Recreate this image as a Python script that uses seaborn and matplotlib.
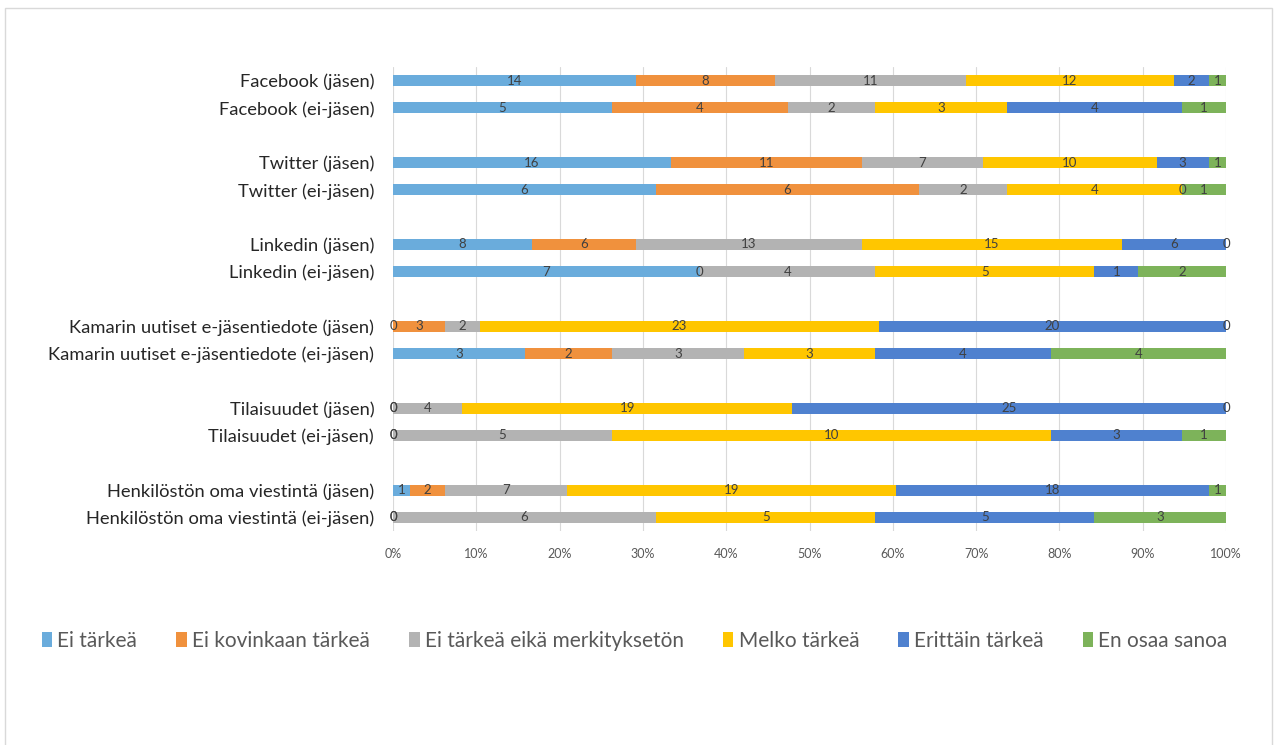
import matplotlib
matplotlib.use("Agg")
import matplotlib.pyplot as plt
from matplotlib.patches import Patch, Rectangle
import seaborn as sns
import pandas as pd
import numpy as np

categories = [
    "Facebook (jäsen)", "Facebook (ei-jäsen)",
    "Twitter (jäsen)", "Twitter (ei-jäsen)",
    "Linkedin (jäsen)", "Linkedin (ei-jäsen)",
    "Kamarin uutiset e-jäsentiedote (jäsen)", "Kamarin uutiset e-jäsentiedote (ei-jäsen)",
    "Tilaisuudet (jäsen)", "Tilaisuudet (ei-jäsen)",
    "Henkilöstön oma viestintä (jäsen)", "Henkilöstön oma viestintä (ei-jäsen)",
]
series_names = ["Ei tärkeä", "Ei kovinkaan tärkeä", "Ei tärkeä eikä merkityksetön",
                "Melko tärkeä", "Erittäin tärkeä", "En osaa sanoa"]
ei_tarkea         = [14, 5, 16, 6, 8, 7, 0, 3, 0, 0, 1, 0]
ei_kovinkaan      = [8, 4, 11, 6, 6, 0, 3, 2, 0, 0, 2, 0]
ei_tarkea_eika    = [11, 2, 7, 2, 13, 4, 2, 3, 4, 5, 7, 6]
melko_tarkea      = [12, 3, 10, 4, 15, 5, 23, 3, 19, 10, 19, 5]
erittain_tarkea   = [2, 4, 3, 0, 6, 1, 20, 4, 25, 3, 18, 5]
en_osaa_sanoa     = [1, 1, 1, 1, 0, 2, 0, 4, 0, 1, 1, 3]
tick_labels = ["0%", "10%", "20%", "30%", "40%", "50%", "60%", "70%", "80%", "90%", "100%"]

colors = ["#6AACDC", "#F0913D", "#B3B3B3", "#FFC600", "#4F81CF", "#7DB35A"]

sns.set_theme(style="white")
plt.rcParams['font.family'] = ['Lato', 'DejaVu Sans']

values = np.array([ei_tarkea, ei_kovinkaan, ei_tarkea_eika, melko_tarkea,
                   erittain_tarkea, en_osaa_sanoa], dtype=float)
totals = values.sum(axis=0)
pct = values / totals * 100
cum = np.cumsum(pct, axis=0)

# order with blank spacer slots between pairs
order = []
blank_i = 0
for i, c in enumerate(categories):
    if i > 0 and i % 2 == 0:
        blank_i += 1
        order.append(" " * blank_i)
    order.append(c)

fig = plt.figure(figsize=(12.77, 7.45), dpi=100)
ax = fig.add_axes([393/1277, 1-531/745, (1226-393)/1277, (531-67)/745])

for s in range(len(series_names) - 1, -1, -1):
    df = pd.DataFrame({"cat": categories, "val": cum[s]})
    sns.barplot(data=df, x="val", y="cat", order=order, orient="h",
                color=colors[s], saturation=1, width=0.4, linewidth=0, ax=ax)

# data labels
ypos = {c: order.index(c) for c in categories}
for s in range(len(series_names)):
    for j, c in enumerate(categories):
        start = cum[s][j] - pct[s][j]
        x = start + pct[s][j] / 2
        ax.text(x, ypos[c], f"{int(values[s][j])}", ha="center", va="center",
                fontsize=9.5, color="#404040")

ax.set_xlim(0, 100)
ax.set_ylim(len(order) - 0.5, -0.5)
ax.set_xticks(np.arange(0, 101, 10))
ax.set_xticklabels(tick_labels, fontsize=9, color="#595959")
ax.tick_params(axis="x", length=0, pad=12.5)
ax.tick_params(axis="y", length=0, pad=13.5)
for lbl in ax.get_yticklabels():
    lbl.set_fontsize(13.2)
    lbl.set_color("#262626")
ax.set_xlabel("")
ax.set_ylabel("")
ax.grid(axis="x", color="#D9D9D9", linewidth=0.8)
ax.set_axisbelow(True)
for sp in ax.spines.values():
    sp.set_visible(False)

handles = [Patch(facecolor=colors[i], edgecolor="none", label=series_names[i])
           for i in range(len(series_names))]
fig.legend(handles=handles, loc="center", bbox_to_anchor=(0.497, 1-641/745), ncol=6,
           frameon=False, fontsize=15, handlelength=0.5, handleheight=0.75,
           handletextpad=0.25, columnspacing=1.88, labelcolor="#595959")

fig.patches.append(Rectangle((5/1277, -0.05), (1272-5)/1277, 1.05 - 8/745,
                             transform=fig.transFigure, fill=False,
                             edgecolor="#D9D9D9", linewidth=1))

fig.savefig("out.png", dpi=100)
